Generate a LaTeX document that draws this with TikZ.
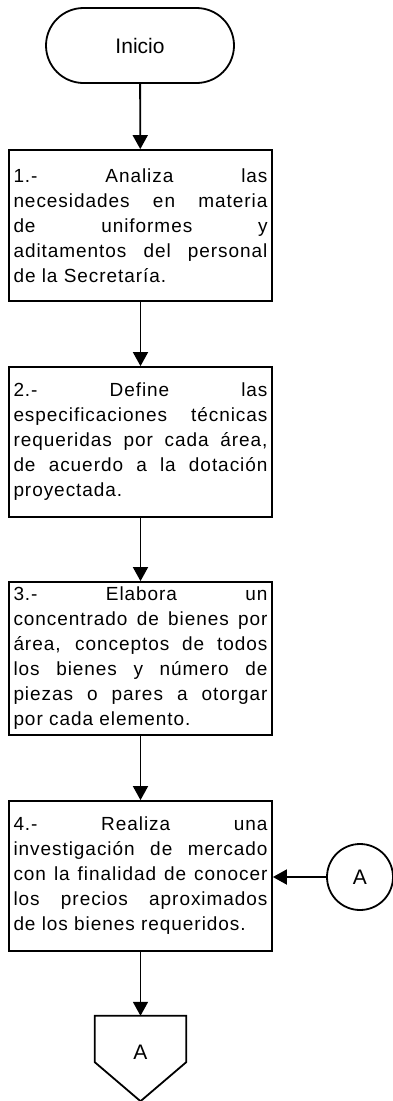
\documentclass[tikz,border=0pt]{standalone}
\usepackage{fontspec}
\setmainfont{Liberation Sans}
\newfontfamily\stepfont{Liberation Sans}[LetterSpace=5]
\usepackage{xcolor}
\definecolor{cInk}{HTML}{000000}
\usetikzlibrary{positioning,arrows.meta,calc}
\hyphenpenalty=10000
\tolerance=10000
\tikzset{
  node-term/.style={draw=cInk,line width=1.8pt,rounded corners=37.5pt,
    minimum width=188pt,minimum height=75pt,font=\fontsize{21}{25}\selectfont},
  node-box/.style={draw=cInk,line width=1.8pt,minimum width=263pt,
    text width=254pt,inner xsep=4.5pt,inner ysep=0pt,align=justify,
    font=\stepfont\fontsize{19}{25}\selectfont},
  node-link/.style={draw=cInk,line width=1.8pt,circle,minimum size=66pt,
    inner sep=0pt,font=\fontsize{21}{25}\selectfont},
  node-offpage/.style={minimum width=91pt,minimum height=72pt,inner sep=0pt,
    font=\fontsize{21}{25}\selectfont},
  arrow/.style={-{Triangle[length=14pt,width=15pt]},line width=1.8pt,draw=cInk},
}
\begin{document}
\begin{tikzpicture}[x=1pt,y=1pt]
  \useasboundingbox (0,0) rectangle (393,-1101);
  \node[node-term] at (140,-45.5) (inicio) {Inicio};
  \node[node-box,minimum height=151pt] at (140.5,-225.5) (paso1)
    {1.- Analiza las\linebreak necesidades en materia\linebreak de uniformes y\linebreak
     aditamentos del personal\linebreak de la Secretaría.};
  \node[node-box,minimum height=150pt] at (140.5,-442) (paso2)
    {2.- Define las\linebreak especificaciones técnicas\linebreak requeridas por cada área,\linebreak
     de acuerdo a la dotación\linebreak proyectada.};
  \node[node-box,minimum height=153pt] at (140.5,-658.5) (paso3)
    {3.- Elabora un\linebreak concentrado de bienes por\linebreak área, conceptos de todos\linebreak
     los bienes y número de\linebreak piezas o pares a otorgar\linebreak por cada elemento.};
  \node[node-box,minimum height=150pt] at (140.5,-876) (paso4)
    {4.- Realiza una\linebreak investigación de mercado\linebreak con la finalidad de conocer\linebreak
     los precios aproximados\linebreak de los bienes requeridos.};
  \node[node-link] at (360,-877) (conA) {A};
  \node[node-offpage] at (140.5,-1052) (salA) {A};
  % conector fuera de pagina
  \draw[line width=1.8pt,draw=cInk] (salA.north west) -- ($(salA.south west)+(0,26)$)
    -- ($(salA.south)+(0,-13)$) -- ($(salA.south east)+(0,26)$) -- (salA.north east) -- cycle;
  \draw[arrow] (inicio) -- (paso1);
  \draw[arrow] (paso1) -- (paso2);
  \draw[arrow] (paso2) -- (paso3);
  \draw[arrow] (paso3) -- (paso4);
  \draw[arrow] (conA) -- (conA -| paso4.east);
  \draw[arrow] (paso4) -- (salA.north);
\end{tikzpicture}
\end{document}
